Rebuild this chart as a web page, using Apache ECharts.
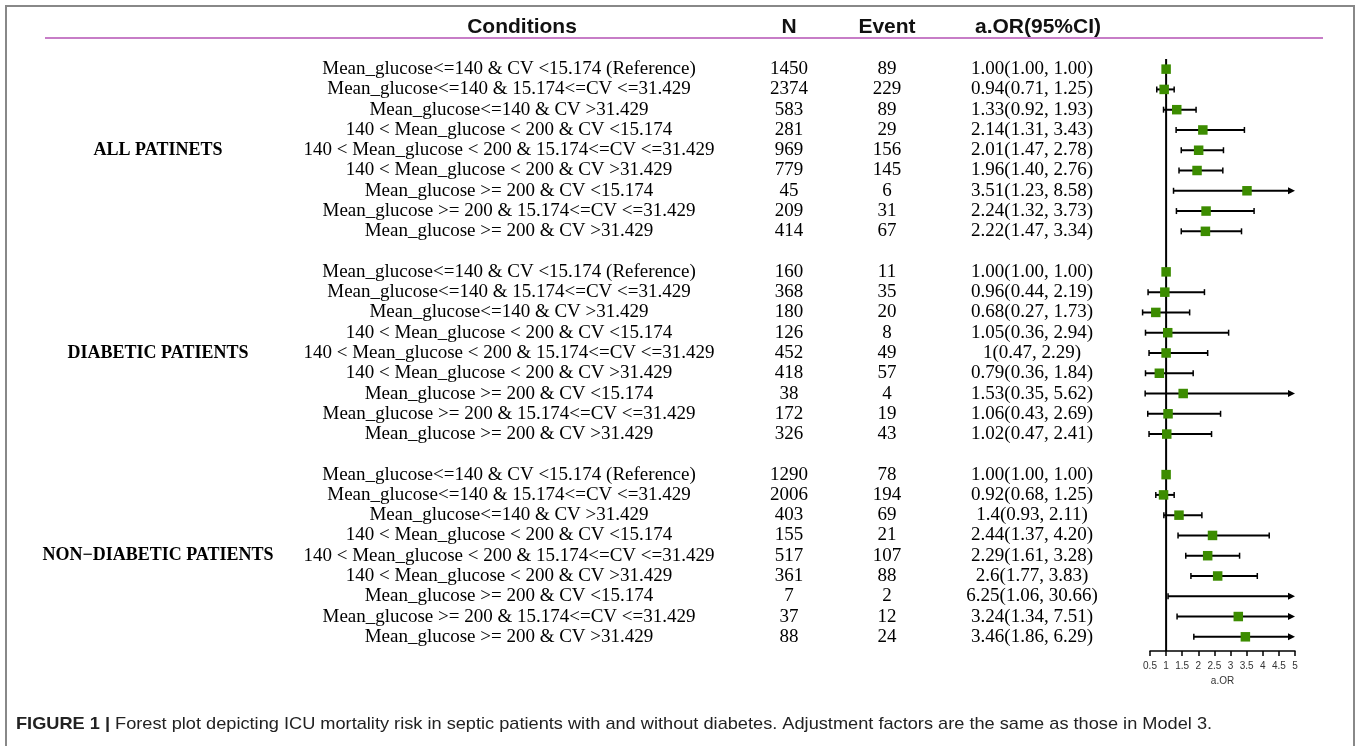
<!DOCTYPE html>
<html>
<head>
<meta charset="utf-8">
<script src="https://cdn.jsdelivr.net/npm/echarts@6/dist/echarts.min.js"></script>
<style>html,body{margin:0;padding:0;background:#fff}#c{width:1357px;height:746px}</style>
</head>
<body>
<div id="c"></div>
<script>
const groups = ['ALL PATINETS', 'DIABETIC PATIENTS', 'NON\u2212DIABETIC PATIENTS'];
const conditions = [
  'Mean_glucose<=140 & CV <15.174 (Reference)',
  'Mean_glucose<=140 & 15.174<=CV <=31.429',
  'Mean_glucose<=140 & CV >31.429',
  '140 < Mean_glucose < 200 & CV <15.174',
  '140 < Mean_glucose < 200 & 15.174<=CV <=31.429',
  '140 < Mean_glucose < 200 & CV >31.429',
  'Mean_glucose >= 200 & CV <15.174',
  'Mean_glucose >= 200 & 15.174<=CV <=31.429',
  'Mean_glucose >= 200 & CV >31.429'
];
const nAll = [1450, 2374, 583, 281, 969, 779, 45, 209, 414];
const nDiab = [160, 368, 180, 126, 452, 418, 38, 172, 326];
const nNon = [1290, 2006, 403, 155, 517, 361, 7, 37, 88];
const evAll = [89, 229, 89, 29, 156, 145, 6, 31, 67];
const evDiab = [11, 35, 20, 8, 49, 57, 4, 19, 43];
const evNon = [78, 194, 69, 21, 107, 88, 2, 12, 24];
const orTextAll = ['1.00(1.00, 1.00)', '0.94(0.71, 1.25)', '1.33(0.92, 1.93)', '2.14(1.31, 3.43)', '2.01(1.47, 2.78)', '1.96(1.40, 2.76)', '3.51(1.23, 8.58)', '2.24(1.32, 3.73)', '2.22(1.47, 3.34)'];
const orTextDiab = ['1.00(1.00, 1.00)', '0.96(0.44, 2.19)', '0.68(0.27, 1.73)', '1.05(0.36, 2.94)', '1(0.47, 2.29)', '0.79(0.36, 1.84)', '1.53(0.35, 5.62)', '1.06(0.43, 2.69)', '1.02(0.47, 2.41)'];
const orTextNon = ['1.00(1.00, 1.00)', '0.92(0.68, 1.25)', '1.4(0.93, 2.11)', '2.44(1.37, 4.20)', '2.29(1.61, 3.28)', '2.6(1.77, 3.83)', '6.25(1.06, 30.66)', '3.24(1.34, 7.51)', '3.46(1.86, 6.29)'];
const orAll = [1.00, 0.94, 1.33, 2.14, 2.01, 1.96, 3.51, 2.24, 2.22];
const loAll = [1.00, 0.71, 0.92, 1.31, 1.47, 1.40, 1.23, 1.32, 1.47];
const hiAll = [1.00, 1.25, 1.93, 3.43, 2.78, 2.76, 8.58, 3.73, 3.34];
const orDiab = [1.00, 0.96, 0.68, 1.05, 1, 0.79, 1.53, 1.06, 1.02];
const loDiab = [1.00, 0.44, 0.27, 0.36, 0.47, 0.36, 0.35, 0.43, 0.47];
const hiDiab = [1.00, 2.19, 1.73, 2.94, 2.29, 1.84, 5.62, 2.69, 2.41];
const orNon = [1.00, 0.92, 1.4, 2.44, 2.29, 2.6, 6.25, 3.24, 3.46];
const loNon = [1.00, 0.68, 0.93, 1.37, 1.61, 1.77, 1.06, 1.34, 1.86];
const hiNon = [1.00, 1.25, 2.11, 4.20, 3.28, 3.83, 30.66, 7.51, 6.29];
const xTicks = [0.5, 1, 1.5, 2, 2.5, 3, 3.5, 4, 4.5, 5];
const headers = ['Conditions', 'N', 'Event', 'a.OR(95%CI)'];
const caption = ['FIGURE 1 |', ' Forest plot depicting ICU mortality risk in septic patients with and without diabetes. Adjustment factors are the same as those in Model 3.'];

const nArr = [nAll, nDiab, nNon];
const evArr = [evAll, evDiab, evNon];
const orTxt = [orTextAll, orTextDiab, orTextNon];
const orArr = [orAll, orDiab, orNon];
const loArr = [loAll, loDiab, loNon];
const hiArr = [hiAll, hiDiab, hiNon];

const XMIN = xTicks[0], XMAX = xTicks[xTicks.length - 1];
const forestData = [];
const tableData = [];
const groupData = [];
for (let g = 0; g < 3; g++) {
  for (let i = 0; i < conditions.length; i++) {
    const row = g * 10 + i;
    forestData.push([row, orArr[g][i], loArr[g][i], hiArr[g][i]]);
    tableData.push([row, g, i]);
  }
  groupData.push([g * 10 + 4, g]);
}

const serif = '"Liberation Serif", "Times New Roman", serif';
const sans = '"Liberation Sans", Arial, sans-serif';
const GREEN = '#3c8c00';

const chart = echarts.init(document.getElementById('c'), null, {renderer: 'canvas'});
const option = {
  animation: false,
  backgroundColor: '#fff',
  grid: {left: 1150, right: 62, top: 59, bottom: 95},
  xAxis: {
    type: 'value', min: XMIN, max: XMAX, interval: 0.5,
    name: 'a.OR', nameLocation: 'middle', nameGap: 22,
    nameTextStyle: {fontFamily: sans, fontSize: 10, color: '#333'},
    axisLine: {show: true, onZero: false, lineStyle: {color: '#000', width: 1.5}},
    axisTick: {show: true, length: 5, lineStyle: {color: '#000', width: 1.5}},
    axisLabel: {fontFamily: sans, fontSize: 10, color: '#333', margin: 10,
      formatter: v => String(v)},
    splitLine: {show: false}
  },
  yAxis: {
    type: 'value', inverse: true, min: -0.5, max: 28.7, show: false
  },
  graphic: [
    {type: 'rect', shape: {x: 6, y: 6, width: 1348, height: 800},
      style: {fill: 'none', stroke: '#888', lineWidth: 2}, silent: true},
    {type: 'line', shape: {x1: 45, y1: 38, x2: 1323, y2: 38},
      style: {stroke: '#c77dc7', lineWidth: 2}},
    {type: 'text', x: 522, y: 27, style: {text: headers[0], font: 'bold 21px ' + sans, fill: '#111', align: 'center', verticalAlign: 'middle'}},
    {type: 'text', x: 789, y: 27, style: {text: headers[1], font: 'bold 21px ' + sans, fill: '#111', align: 'center', verticalAlign: 'middle'}},
    {type: 'text', x: 887, y: 27, style: {text: headers[2], font: 'bold 21px ' + sans, fill: '#111', align: 'center', verticalAlign: 'middle'}},
    {type: 'text', x: 1038, y: 27, style: {text: headers[3], font: 'bold 21px ' + sans, fill: '#111', align: 'center', verticalAlign: 'middle'}},
    {type: 'text', x: 16, y: 724, scaleX: 1.07, style: {
      text: '{b|' + caption[0] + '}{r|' + caption[1] + '}',
      verticalAlign: 'middle',
      rich: {
        b: {fontFamily: sans, fontWeight: 'bold', fontSize: 17, fill: '#222', color: '#222'},
        r: {fontFamily: sans, fontSize: 17, fill: '#222', color: '#222'}
      }
    }}
  ],
  series: [
    {
      type: 'custom', name: 'refline', z: 2,
      data: [[1]],
      encode: {x: 0},
      renderItem: function (params, api) {
        const top = api.coord([1, -0.5]);
        const bot = api.coord([1, 28.7]);
        return {type: 'line', shape: {x1: top[0], y1: top[1], x2: bot[0], y2: bot[1]},
          style: {stroke: '#000', lineWidth: 2}};
      }
    },
    {
      type: 'custom', name: 'forest', z: 3,
      data: forestData,
      encode: {x: [1, 2, 3], y: 0},
      renderItem: function (params, api) {
        const row = api.value(0), or = api.value(1), lo = api.value(2), hi = api.value(3);
        const y = api.coord([1, row])[1];
        const xlo = api.coord([lo, row])[0];
        const arrow = hi > XMAX;
        const xhi = api.coord([arrow ? XMAX : hi, row])[0];
        const ch = [];
        const lineEnd = arrow ? xhi - 6 : xhi;
        if (hi > lo) {
          ch.push({type: 'line', shape: {x1: xlo, y1: y, x2: lineEnd, y2: y}, style: {stroke: '#000', lineWidth: 2}});
          ch.push({type: 'line', shape: {x1: xlo, y1: y - 3, x2: xlo, y2: y + 3}, style: {stroke: '#000', lineWidth: 1.5}});
          if (!arrow) {
            ch.push({type: 'line', shape: {x1: xhi, y1: y - 3, x2: xhi, y2: y + 3}, style: {stroke: '#000', lineWidth: 1.5}});
          } else {
            ch.push({type: 'polygon', shape: {points: [[xhi, y], [xhi - 7, y - 3.5], [xhi - 7, y + 3.5]]}, style: {fill: '#000'}});
          }
        }
        if (or <= XMAX) {
          const xo = api.coord([or, row])[0];
          ch.push({type: 'rect', shape: {x: xo - 4.75, y: y - 4.75, width: 9.5, height: 9.5}, style: {fill: GREEN}});
        }
        return {type: 'group', children: ch};
      }
    },
    {
      type: 'custom', name: 'table', z: 4,
      data: tableData,
      encode: {y: 0},
      renderItem: function (params, api) {
        const row = api.value(0), g = api.value(1), i = api.value(2);
        const y = api.coord([1, row])[1];
        const st = (txt, x) => ({type: 'text', x: x, y: y, style: {text: String(txt), font: '19px ' + serif, fill: '#000', align: 'center', verticalAlign: 'middle'}});
        return {type: 'group', children: [
          st(conditions[i], 509),
          st(nArr[g][i], 789),
          st(evArr[g][i], 887),
          st(orTxt[g][i], 1032)
        ]};
      }
    },
    {
      type: 'custom', name: 'groups', z: 4,
      data: groupData,
      encode: {y: 0},
      renderItem: function (params, api) {
        const row = api.value(0), g = api.value(1);
        const y = api.coord([1, row])[1];
        return {type: 'text', x: 158, y: y, style: {text: groups[g], font: 'bold 18px ' + serif, fill: '#000', align: 'center', verticalAlign: 'middle'}};
      }
    }
  ]
};
chart.setOption(option);
</script>
</body>
</html>
